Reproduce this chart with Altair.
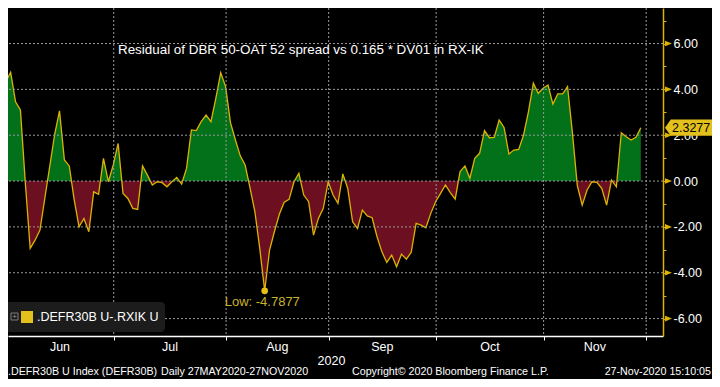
import altair as alt
import pandas as pd

# ---------------- data ----------------
start_date = "2020-05-27"
end_date = "2020-11-27"
axis_end_date = "2020-12-01"

values = [
    7.60, 4.92, 4.34, 4.75, 3.46, 3.10, -0.07, -2.94, -2.58, -2.14,
    -0.74, 0.64, 2.03, 3.06, 0.92, 0.66, -0.81, -2.00, -1.63, -2.21,
    -0.47, -0.58, 0.99, -0.03, 0.70, 1.64, -0.54, -0.76, -1.19, -1.24,
    0.66, 0.26, -0.17, -0.03, -0.07, -0.25, -0.03, 0.16, -0.13, 0.55,
    2.23, 2.20, 2.59, 2.88, 2.59, 3.61, 4.73, 4.12, 2.55, 1.80,
    1.10, 0.70, -0.30, -1.34, -2.95, -4.7877, -3.01, -2.20, -1.45, -0.92,
    -0.80, -0.03, 0.34, -0.61, -0.90, -2.36, -1.63, -1.19, -0.03, -0.61,
    -0.97, 0.31, -0.32, -1.78, -2.07, -1.27, -1.52, -1.60, -2.43, -3.09,
    -3.55, -3.23, -3.74, -3.19, -3.41, -3.11, -1.85, -1.92, -2.04, -1.41,
    -0.90, -0.54, -0.17, -0.50, -0.79, 0.41, 0.66, 0.12, 0.99, 1.21,
    2.20, 1.89, 1.91, 2.66, 2.34, 1.18, 1.35, 1.38, 2.01, 3.03,
    4.27, 3.83, 4.05, 4.19, 3.36, 3.80, 3.80, 4.12, 2.10, -0.20,
    -1.05, -0.39, -0.03, -0.06, -0.32, -1.05, 0.04, -0.25, 2.11, 1.93,
    1.79, 1.91, 2.3277,
]
month_names = ["Jun", "Jul", "Aug", "Sep", "Oct", "Nov"]
month_numbers = [6, 7, 8, 9, 10, 11, 12]
major_ticks = [-6, -4, -2, 0, 2, 4, 6]
minor_ticks = list(range(-6, 8))

title_text = "Residual of DBR 50-OAT 52 spread vs 0.165 * DV01 in RX-IK"
legend_text = ".DEFR30B U-.RXIK U"
year_text = "2020"
footer_left = ".DEFR30B U Index (DEFR30B)"
footer_range = "Daily 27MAY2020-27NOV2020"
footer_copy = "Copyright\u00a9 2020 Bloomberg Finance L.P."
footer_time = "27-Nov-2020 15:10:05"

# ---------------- derived tables ----------------
dates = pd.bdate_range(start_date, end_date)
df = pd.DataFrame({"i": list(range(len(values))), "v": values, "date": dates[: len(values)]})

axis_dates = pd.bdate_range(start_date, axis_end_date)
pos = pd.Series(range(len(axis_dates)), index=axis_dates)
first_idx = pos.groupby(axis_dates.month).min()
grid_i = [first_idx[m] - 0.9 for m in month_numbers]
mid_i = [(a + b) / 2 for a, b in zip(grid_i[:-1], grid_i[1:])]

XMIN, XMAX = 2.456, 136.54
YMIN, YMAX = -6.76, 7.55
vis_grid = [g for g in grid_i if XMIN < g < XMAX]

low_value = min(values)
low_idx = values.index(low_value)
last_value = values[-1]

# ---------------- styling ----------------
FONT = "Liberation Sans"
YEL = "#dcb400"
YEL_BOX = "#e3c01c"
LOW_C = "#c8b22a"
GREEN = "#03701a"
RED = "#6c0f20"
GRID = "#9a9a9a"
W, H = 655, 328

frac = max(values) / (max(values) - min(values))
grad = alt.Gradient(
    gradient="linear",
    stops=[
        alt.GradientStop(color=GREEN, offset=0),
        alt.GradientStop(color=GREEN, offset=frac),
        alt.GradientStop(color=RED, offset=frac),
        alt.GradientStop(color=RED, offset=1),
    ],
    x1=0, x2=0, y1=0, y2=1,
)

xs = alt.Scale(domain=[XMIN, XMAX], nice=False, zero=False)
ys = alt.Scale(domain=[YMIN, YMAX], nice=False, zero=False)

xaxis = alt.Axis(
    orient="bottom", values=vis_grid, labels=False, title=None, grid=False,
    domainColor="white", domainWidth=1.5, tickColor="white", tickSize=4, tickWidth=1,
)
yaxis = alt.Axis(
    orient="right", values=minor_ticks, title=None, grid=False,
    domainColor=YEL, domainWidth=1.5, tickColor=YEL, tickSize=3, tickWidth=1,
    labelExpr="datum.value % 2 == 0 ? replace(format(datum.value, '.2f'), '\u2212', '-') : ''",
    labelColor="white", labelFont=FONT, labelFontSize=12.5, labelPadding=7,
    labelAlign="left", labelBaseline="middle", labelOverlap=False, zindex=0,
)


def X():
    return alt.X("i:Q", scale=xs, axis=xaxis)


def Y():
    return alt.Y("v:Q", scale=ys, axis=yaxis)


ANN = pd.DataFrame({"a": [0]})


def label(text, x, y, color="white", size=12.5, align="left"):
    return alt.Chart(ANN).mark_text(
        text=text, align=align, baseline="middle", color=color, fontSize=size, font=FONT
    ).encode(x=alt.value(x), y=alt.value(y))


area = alt.Chart(df).mark_area(clip=True, fill=grad, opacity=1).encode(
    x=X(), y=Y(), y2=alt.datum(0)
)
line = alt.Chart(df).mark_line(clip=True, color=YEL, strokeWidth=1.3).encode(x=X(), y=Y())

hgrid = alt.Chart(pd.DataFrame({"v": major_ticks})).mark_rule(
    color=GRID, strokeDash=[2, 2], strokeWidth=1
).encode(y=Y())
vgrid = alt.Chart(pd.DataFrame({"i": vis_grid})).mark_rule(
    color=GRID, strokeDash=[2, 2], strokeWidth=1
).encode(x=X())

low_df = pd.DataFrame({"i": [low_idx], "v": [low_value], "t": [f"Low:  {low_value:.4f}"]})
low_dot = alt.Chart(low_df).mark_circle(size=45, color=YEL_BOX, opacity=1).encode(x=X(), y=Y())
low_txt = alt.Chart(low_df).mark_text(
    align="left", baseline="middle", dx=-40, dy=11, color=LOW_C, fontSize=13, font=FONT
).encode(x=X(), y=Y(), text="t:N")

months = alt.Chart(pd.DataFrame({"i": mid_i, "m": month_names})).mark_text(
    color="white", fontSize=12.5, baseline="middle", align="center", font=FONT
).encode(x=X(), y=alt.value(338.5), text="m:N")

tri = alt.Chart(pd.DataFrame({"v": major_ticks})).mark_point(
    shape="M-1,-0.8L1,0L-1,0.8Z", size=49, filled=True, color=YEL, opacity=1, strokeWidth=0
).encode(x=alt.value(660.5), y=Y())

last_df = pd.DataFrame({"i": [len(values) - 1], "v": [last_value], "t": [f"{last_value:.4f}"]})
box = alt.Chart(last_df).mark_point(
    shape="M-1,0L-0.76,-0.34L1,-0.34L1,0.34L-0.76,0.34Z", size=2304, filled=True,
    color=YEL_BOX, opacity=1, strokeWidth=0,
).encode(x=alt.value(681), y=Y())
box_txt = alt.Chart(last_df).mark_text(
    align="left", baseline="middle", color="black", fontSize=12.5, font=FONT
).encode(x=alt.value(664), y=Y(), text="t:N")

leg_bg = alt.Chart(ANN).mark_rect(color="#1c1c1c", cornerRadius=4).encode(
    x=alt.value(-4), x2=alt.value(157), y=alt.value(294), y2=alt.value(324)
)
leg_icon = alt.Chart(ANN).mark_rect(filled=False, stroke="#7a7a7a", strokeWidth=1).encode(
    x=alt.value(3), x2=alt.value(10), y=alt.value(305), y2=alt.value(312)
)
leg_plus = label("+", 6.5, 308.5, color="#9a9a9a", size=8, align="center")
leg_sq = alt.Chart(ANN).mark_rect(color=YEL_BOX).encode(
    x=alt.value(13), x2=alt.value(25), y=alt.value(303), y2=alt.value(315)
)
leg_txt = label(legend_text, 29, 309, size=12.5)

title = label(title_text, 110, 42, size=13.4)
year = label(year_text, 323.5, 353, align="center")
f1 = label(footer_left, 0, 364, size=10.7)
f2 = label(footer_range, 153, 364, size=10.7)
f3 = label(footer_copy, 344, 364, size=10.7)
f4 = label(footer_time, 703, 364, size=10.7, align="right")

chart = alt.layer(
    area, line, hgrid, vgrid, low_dot, low_txt, months, tri, box, box_txt,
    leg_bg, leg_icon, leg_plus, leg_sq, leg_txt, title, year, f1, f2, f3, f4,
).properties(
    width=W, height=H,
    autosize=alt.AutoSizeParams(type="none"),
    padding={"left": 0, "top": 0, "right": 49, "bottom": 43},
).configure(background="black").configure_view(strokeWidth=0)

chart.save("out.html", embed_options={"renderer": "svg", "actions": False})
